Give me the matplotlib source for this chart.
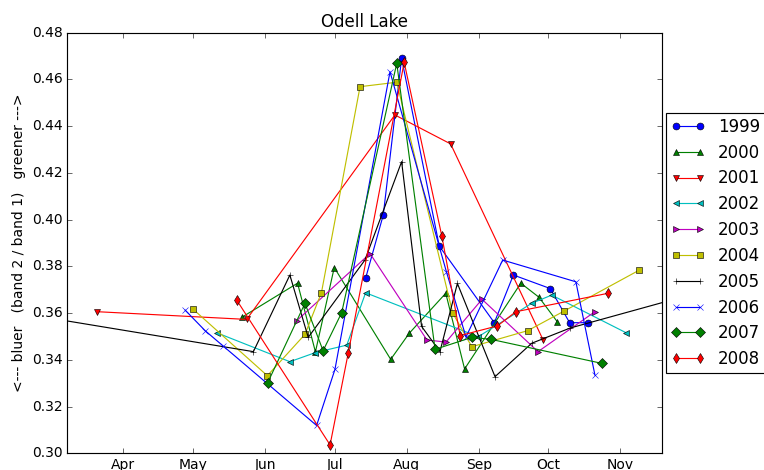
import matplotlib
matplotlib.use('Agg')
import matplotlib.pyplot as plt

plt.style.use('classic')

# day of year, band2/band1 ratio
years = ['1999', '2000', '2001', '2002', '2003', '2004', '2005', '2006', '2007', '2008']
fmts = ['bo-', 'g^-', 'rv-', 'c<-', 'm>-', 'ys-', 'k+-', 'bx-', 'gD-', 'rd-']

d1999 = [195.3, 202.9, 210.8, 227.0, 250.7, 258.9, 274.8, 283.1, 291.1]
v1999 = [0.3749, 0.4020, 0.4690, 0.3887, 0.3559, 0.3763, 0.3705, 0.3559, 0.3559]

d2000 = [142.0, 166.0, 173.7, 181.8, 206.1, 214.1, 229.8, 237.9, 262.1, 269.9, 277.8]
v2000 = [0.3582, 0.3728, 0.3434, 0.3795, 0.3402, 0.3514, 0.3685, 0.3361, 0.3728, 0.3668, 0.3563]

d2001 = [79.8, 144.1, 207.9, 231.9, 271.8]
v2001 = [0.3606, 0.3573, 0.4448, 0.4324, 0.3483]

d2002 = [131.2, 162.7, 173.7, 187.2, 195.3, 243.8, 266.8, 275.4, 307.4]
v2002 = [0.3516, 0.3392, 0.3431, 0.3463, 0.3687, 0.3499, 0.3642, 0.3677, 0.3516]

d2003 = [165.6, 197.2, 221.7, 229.9, 245.4, 269.5, 294.0]
v2003 = [0.3567, 0.3855, 0.3485, 0.3476, 0.3659, 0.3435, 0.3606]

d2004 = [120.9, 153.0, 169.2, 176.3, 192.9, 208.7, 232.8, 241.0, 265.1, 280.8, 313.1]
v2004 = [0.3618, 0.3332, 0.3509, 0.3688, 0.4569, 0.4588, 0.3600, 0.3456, 0.3525, 0.3609, 0.3784]

d2005 = [50.0, 147.0, 162.7, 170.6, 195.0, 210.8, 219.4, 227.3, 234.8, 251.0, 266.8, 283.3, 335.0]
v2005 = [0.3594, 0.3435, 0.3763, 0.3496, 0.3827, 0.4248, 0.3543, 0.3435, 0.3727, 0.3328, 0.3471, 0.3536, 0.3678]

d2006 = [117.6, 126.2, 134.0, 174.2, 182.1, 205.8, 230.1, 238.5, 254.3, 285.8, 294.0]
v2006 = [0.3613, 0.3525, 0.3459, 0.3119, 0.3359, 0.4633, 0.3776, 0.3498, 0.3827, 0.3734, 0.3335]

d2007 = [153.1, 169.2, 177.0, 185.0, 208.7, 225.2, 241.0, 249.1, 296.9]
v2007 = [0.3301, 0.3642, 0.3439, 0.3602, 0.4669, 0.3445, 0.3496, 0.3488, 0.3385]

d2008 = [139.8, 180.0, 187.8, 211.9, 228.1, 236.0, 252.0, 260.0, 299.8]
v2008 = [0.3656, 0.3036, 0.3428, 0.4673, 0.3930, 0.3504, 0.3545, 0.3606, 0.3685]

days = [d1999, d2000, d2001, d2002, d2003, d2004, d2005, d2006, d2007, d2008]
vals = [v1999, v2000, v2001, v2002, v2003, v2004, v2005, v2006, v2007, v2008]

month_days = [91, 121, 152, 182, 213, 244, 274, 305]
month_names = ['Apr', 'May', 'Jun', 'Jul', 'Aug', 'Sep', 'Oct', 'Nov']

dpi = 83
fig = plt.figure(figsize=(764.0/dpi, 470.0/dpi), dpi=dpi, facecolor='white')
ax = fig.add_axes([67.3/764, 1-453.3/470, (662.3-67.3)/764, (453.3-32.7)/470])

for d, v, f, y in zip(days, vals, fmts, years):
  ax.plot(d, v, f, label=y)

ax.set_xlim(66.9, 323.0)
ax.set_ylim(0.30, 0.48)
ax.set_xticks(month_days)
ax.set_xticklabels(month_names)
ax.set_yticks([0.30, 0.32, 0.34, 0.36, 0.38, 0.40, 0.42, 0.44, 0.46, 0.48])
ax.set_yticklabels(['%.2f' % t for t in ax.get_yticks()])
ax.set_title('Odell Lake')
ax.set_ylabel('<--- bluer   (band 2 / band 1)   greener --->')
ax.legend(loc='center left', bbox_to_anchor=(1.0, 0.5), borderaxespad=0.25,
          labelspacing=0.47, borderpad=0.3)

fig.savefig('out.png', dpi=dpi, facecolor='white')
